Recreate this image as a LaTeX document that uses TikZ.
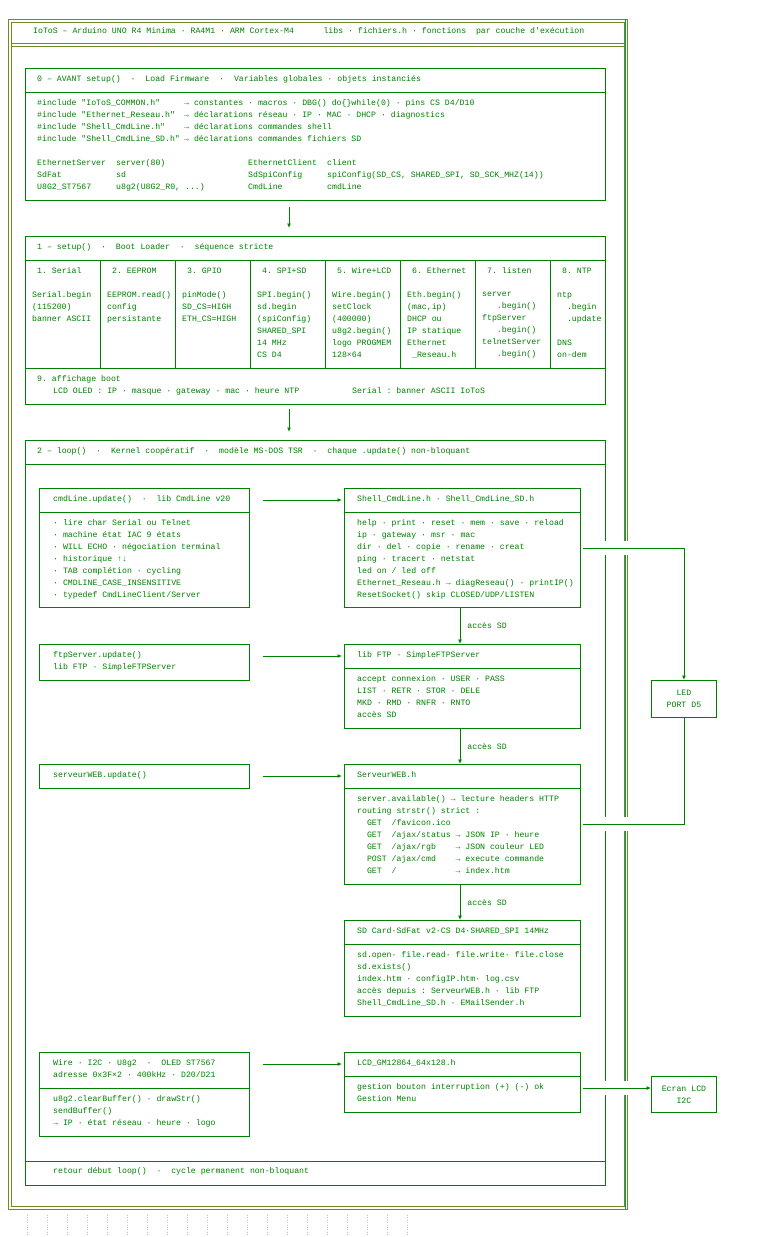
\documentclass[tikz,border=0pt]{standalone}
\usepackage{fontspec}
\setmonofont{Liberation Mono}
\usetikzlibrary{arrows.meta,calc}
\definecolor{G}{RGB}{0,128,0}
\definecolor{Tl}{RGB}{0,150,110}
\definecolor{Ol}{RGB}{110,140,30}
\newcommand\Tx[4]{\node[t] (#1) at (#2,#3-4.6) {#4};}
\begin{document}
\begin{tikzpicture}[x=1pt,y=-1pt,
  t/.style={anchor=north west,inner sep=0,align=left,text=G,font=\ttfamily\fontsize{8.2}{12}\selectfont},
  box/.style={draw=G,line width=0.9pt,inner sep=0,anchor=north west},
  sep/.style={draw=G,line width=0.9pt},
  arr/.style={draw=G,line width=0.9pt,-{Latex[length=4.5pt,width=4pt]}},
  con/.style={draw=G,line width=0.9pt},
  fr/.style={draw=Ol,line width=0.8pt}]
\useasboundingbox (0,0) rectangle (762,1237);
\fill[white] (0,0) rectangle (762,1237);
% frame
\draw[fr] (8,19) rectangle (627,1209);
\draw[fr] (11,22) rectangle (624,1206);
\draw[fr] (11,43) -- (624,43);
\draw[fr] (11,46) -- (624,46);
\draw[Tl,line width=1.6pt] (625.5,19) -- (625.5,1209);
\foreach \i in {0,...,19} \draw[gray!50,dotted] (27+\i*20,1215) -- (27+\i*20,1237);
\Tx{title}{33}{32}{IoToS – Arduino UNO R4 Minima · RA4M1 · ARM Cortex-M4~~~~~~libs · fichiers.h · fonctions~~par couche d'exécution}

% section 0
\node[box,minimum width=580,minimum height=132] (S0) at (25,68) {};
\draw[sep] ($(S0.north west)+(0,24)$) -- ($(S0.north east)+(0,24)$);
\Tx{s0h}{37}{80}{0 – AVANT setup()~~·~~Load Firmware~~·~~Variables globales · objets instanciés}
\Tx{s0a}{37}{104}{\#include "IoToS\_COMMON.h"\\\#include "Ethernet\_Reseau.h"\\\#include "Shell\_CmdLine.h"\\\#include "Shell\_CmdLine\_SD.h"}
\Tx{s0b}{184}{104}{→ constantes · macros · DBG() do\{\}while(0) · pins CS D4/D10\\→ déclarations réseau · IP · MAC · DHCP · diagnostics\\→ déclarations commandes shell\\→ déclarations commandes fichiers SD}
\Tx{s0c}{37}{164}{EthernetServer\\SdFat\\U8G2\_ST7567}
\Tx{s0d}{116}{164}{server(80)\\sd\\u8g2(U8G2\_R0, ...)}
\Tx{s0e}{248}{164}{EthernetClient\\SdSpiConfig\\CmdLine}
\Tx{s0f}{327}{164}{client\\spiConfig(SD\_CS, SHARED\_SPI, SD\_SCK\_MHZ(14))\\cmdLine}

% section 1
\node[box,minimum width=580,minimum height=168] (S1) at (25,236) {};
\draw[sep] ($(S1.north west)+(0,24)$) -- ($(S1.north east)+(0,24)$);
\draw[sep] ($(S1.north west)+(0,132)$) -- ($(S1.north east)+(0,132)$);
\foreach \c in {100,175,250,325,400,475,550} \draw[sep] (\c,260) -- (\c,368);
\draw[arr] ($(S0.south west)+(264,6)$) -- ($(S1.north west)+(264,-8)$);
\Tx{s1h}{37}{248}{1 – setup()~~·~~Boot Loader~~·~~séquence stricte}
\Tx{c1h}{37}{272}{1. Serial}
\Tx{c2h}{112}{272}{2. EEPROM}
\Tx{c3h}{187}{272}{3. GPIO}
\Tx{c4h}{262}{272}{4. SPI+SD}
\Tx{c5h}{337}{272}{5. Wire+LCD}
\Tx{c6h}{412}{272}{6. Ethernet}
\Tx{c7h}{487}{272}{7. listen}
\Tx{c8h}{562}{272}{8. NTP}
\Tx{c1}{32}{296}{Serial.begin\\(115200)\\banner ASCII}
\Tx{c2}{107}{296}{EEPROM.read()\\config\\persistante}
\Tx{c3}{182}{296}{pinMode()\\SD\_CS=HIGH\\ETH\_CS=HIGH}
\Tx{c4}{257}{296}{SPI.begin()\\sd.begin\\(spiConfig)\\SHARED\_SPI\\14 MHz\\CS D4}
\Tx{c5}{332}{296}{Wire.begin()\\setClock\\(400000)\\u8g2.begin()\\logo PROGMEM\\128×64}
\Tx{c6}{407}{296}{Eth.begin()\\(mac,ip)\\DHCP ou\\IP statique\\Ethernet\\~\_Reseau.h}
\Tx{c7}{482}{296}{server\\~~~.begin()\\ftpServer\\~~~.begin()\\telnetServer\\~~~.begin()}
\Tx{c8}{557}{296}{ntp\\~~.begin\\~~.update\\~\\DNS\\on-dem}
\Tx{r9}{37}{380}{9. affichage boot}
\Tx{r9a}{53}{392}{LCD OLED : IP · masque · gateway · mac · heure NTP}
\Tx{r9b}{352}{392}{Serial : banner ASCII IoToS}

% section 2
\node[box,minimum width=580,minimum height=745] (S2) at (25,440) {};
\draw[sep] ($(S2.north west)+(0,24)$) -- ($(S2.north east)+(0,24)$);
\draw[sep] ($(S2.south west)+(0,-24)$) -- ($(S2.south east)+(0,-24)$);
\draw[arr] ($(S1.south west)+(264,4)$) -- ($(S2.north west)+(264,-8)$);
\Tx{s2h}{37}{452}{2 – loop()~~·~~Kernel coopératif~~·~~modèle MS-DOS TSR~~·~~chaque .update() non-bloquant}
\Tx{s2f}{53}{1172}{retour début loop()~~·~~cycle permanent non-bloquant}

% boxes
\node[box,minimum width=210,minimum height=119] (cmd) at (39,488) {};
\node[box,minimum width=236,minimum height=119] (shell) at (344,488) {};
\node[box,minimum width=210,minimum height=36] (ftpL) at (39,644) {};
\node[box,minimum width=236,minimum height=84] (ftpR) at (344,644) {};
\node[box,minimum width=210,minimum height=24] (webL) at (39,764) {};
\node[box,minimum width=236,minimum height=120] (webR) at (344,764) {};
\node[box,minimum width=236,minimum height=96] (sd) at (344,920) {};
\node[box,minimum width=210,minimum height=84] (wire) at (39,1052) {};
\node[box,minimum width=236,minimum height=60] (lcd) at (344,1052) {};
\node[box,minimum width=65,minimum height=37,align=center,text=G,font=\ttfamily\fontsize{8.2}{12}\selectfont] (led) at (651,680) {LED\\PORT D5};
\node[box,minimum width=65,minimum height=36,align=center,text=G,font=\ttfamily\fontsize{8.2}{12}\selectfont] (ecran) at (651,1076) {Ecran LCD\\I2C};
\foreach \b in {cmd,shell,ftpR,webR,sd,lcd} \draw[sep] ($(\b.north west)+(0,24)$) -- ($(\b.north east)+(0,24)$);
\draw[sep] ($(wire.north west)+(0,36)$) -- ($(wire.north east)+(0,36)$);

\Tx{cmdh}{53}{500}{cmdLine.update()~~·~~lib CmdLine v20}
\Tx{cmdb}{53}{524}{· lire char Serial ou Telnet\\· machine état IAC 9 états\\· WILL ECHO · négociation terminal\\· historique ↑↓\\· TAB complétion · cycling\\· CMDLINE\_CASE\_INSENSITIVE\\· typedef CmdLineClient/Server}
\Tx{shh}{357}{500}{Shell\_CmdLine.h · Shell\_CmdLine\_SD.h}
\Tx{shb}{357}{524}{help · print · reset · mem · save · reload\\ip · gateway · msr · mac\\dir · del · copie · rename · creat\\ping · tracert · netstat\\led on / led off\\Ethernet\_Reseau.h → diagReseau() · printIP()\\ResetSocket() skip CLOSED/UDP/LISTEN}
\Tx{ftl}{53}{656}{ftpServer.update()\\lib FTP · SimpleFTPServer}
\Tx{ftrh}{357}{656}{lib FTP · SimpleFTPServer}
\Tx{ftrb}{357}{680}{accept connexion · USER · PASS\\LIST · RETR · STOR · DELE\\MKD · RMD · RNFR · RNTO\\accès SD}
\Tx{wbl}{53}{776}{serveurWEB.update()}
\Tx{wbh}{357}{776}{ServeurWEB.h}
\Tx{wbb}{357}{800}{server.available() → lecture headers HTTP\\routing strstr() strict :\\~~GET~~/favicon.ico\\~~GET~~/ajax/status → JSON IP · heure\\~~GET~~/ajax/rgb~~~~→ JSON couleur LED\\~~POST~/ajax/cmd~~~~→ execute commande\\~~GET~~/~~~~~~~~~~~~→ index.htm}
\Tx{sdh}{357}{932}{SD Card·SdFat v2·CS D4·SHARED\_SPI 14MHz}
\Tx{sdb}{357}{956}{sd.open· file.read· file.write· file.close\\sd.exists()\\index.htm · configIP.htm· log.csv\\accès depuis : ServeurWEB.h · lib FTP\\Shell\_CmdLine\_SD.h · EMailSender.h}
\Tx{wrh}{53}{1064}{Wire · I2C · U8g2~~·~~OLED ST7567\\adresse 0x3F×2 · 400kHz · D20/D21}
\Tx{wrb}{53}{1100}{u8g2.clearBuffer() · drawStr()\\sendBuffer()\\→ IP · état réseau · heure · logo}
\Tx{lch}{357}{1064}{LCD\_GM12864\_64x128.h}
\Tx{lcb}{357}{1088}{gestion bouton interruption (+) (-) ok\\Gestion Menu}

% connectors
\draw[arr] ($(cmd.north east)+(13,12)$) -- ($(shell.north west)+(-2,12)$);
\draw[arr] ($(ftpL.north east)+(13,12)$) -- ($(ftpR.north west)+(-2,12)$);
\draw[arr] ($(webL.north east)+(13,12)$) -- ($(webR.north west)+(-2,12)$);
\draw[arr] ($(wire.north east)+(13,12)$) -- ($(lcd.north west)+(-2,12)$);
\draw[arr] ($(shell.south west)+(116,0)$) -- node[t,anchor=west,xshift=7pt]{accès SD} ($(ftpR.north west)+(116,0)$);
\draw[arr] ($(ftpR.south west)+(116,0)$) -- node[t,anchor=west,xshift=7pt]{accès SD} ($(webR.north west)+(116,0)$);
\draw[arr] ($(webR.south west)+(116,0)$) -- node[t,anchor=west,xshift=7pt]{accès SD} ($(sd.north west)+(116,0)$);
\foreach \yy in {548,824,1088} \fill[white] (601,\yy-7) rectangle (630,\yy+7);
\draw[arr] ($(shell.north east)+(2,60)$) -| (led.north);
\draw[con] ($(webR.north east)+(2,60)$) -| (led.south);
\draw[arr] ($(lcd.north east)+(2,36)$) -- ($(ecran.north west)+(0,12)$);
\end{tikzpicture}
\end{document}
